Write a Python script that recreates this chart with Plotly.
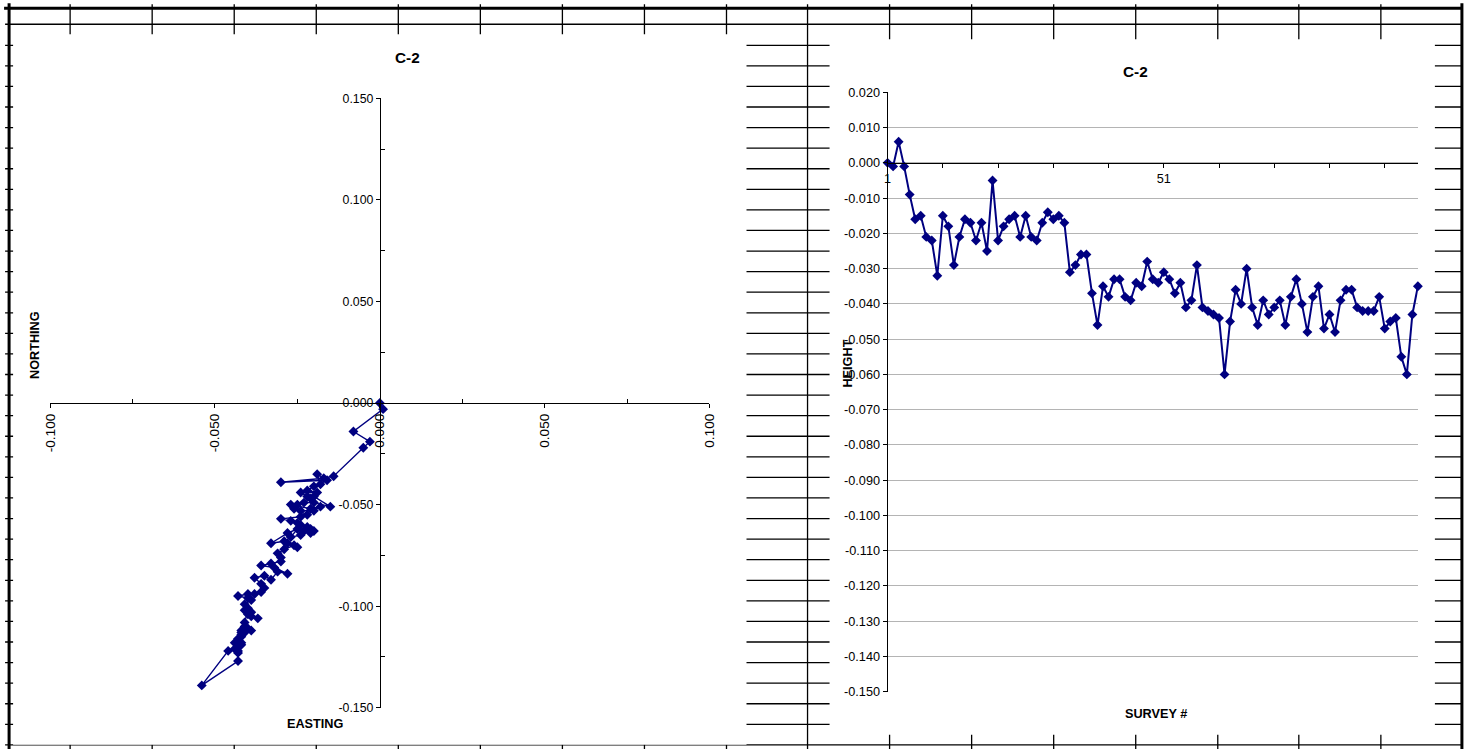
import plotly.graph_objects as go

# figure size, and the window-pixel -> paper mapping (the page shows the
# figure inside an 8 px body margin, and the photographed page is scaled
# from 1487x765 down to 1471x749)
W, H = 1471, 749
MARGIN = 8
KX = (W + 2 * MARGIN) / W
KY = (H + 2 * MARGIN) / H

# ---- C-2 plan movement (m) ----
easting = [0.000, 0.001, -0.008, -0.003, -0.005, -0.014, -0.017, -0.030, -0.016, -0.019,
           -0.018, -0.020, -0.022, -0.019, -0.024, -0.021, -0.022, -0.020, -0.015, -0.020,
           -0.023, -0.025, -0.027, -0.021, -0.018, -0.020, -0.024, -0.026, -0.022, -0.024,
           -0.030, -0.027, -0.025, -0.022, -0.024, -0.021, -0.020, -0.021, -0.023, -0.024,
           -0.027, -0.025, -0.028, -0.033, -0.029, -0.028, -0.025, -0.026, -0.029, -0.031,
           -0.030, -0.030, -0.033, -0.036, -0.032, -0.028, -0.031, -0.033, -0.035, -0.038,
           -0.036, -0.035, -0.036, -0.038, -0.040, -0.043, -0.040, -0.039, -0.041, -0.040,
           -0.041, -0.039, -0.040, -0.037, -0.039, -0.040, -0.041, -0.041, -0.039, -0.040,
           -0.042, -0.042, -0.043, -0.042, -0.043, -0.043, -0.043, -0.044, -0.046, -0.054,
           -0.043, -0.043, -0.042, -0.044, -0.042, -0.041, -0.042]
northing = [0.000, -0.003, -0.014, -0.019, -0.022, -0.036, -0.037, -0.039, -0.038, -0.035,
            -0.040, -0.041, -0.043, -0.044, -0.044, -0.047, -0.046, -0.046, -0.051, -0.049,
            -0.049, -0.050, -0.050, -0.052, -0.051, -0.053, -0.053, -0.052, -0.055, -0.056,
            -0.057, -0.058, -0.059, -0.061, -0.060, -0.062, -0.063, -0.064, -0.063, -0.065,
            -0.066, -0.062, -0.064, -0.069, -0.068, -0.069, -0.071, -0.070, -0.072, -0.074,
            -0.076, -0.078, -0.079, -0.080, -0.081, -0.084, -0.083, -0.087, -0.085, -0.086,
            -0.089, -0.091, -0.093, -0.094, -0.094, -0.095, -0.096, -0.097, -0.099, -0.101,
            -0.102, -0.103, -0.104, -0.106, -0.105, -0.102, -0.108, -0.110, -0.112, -0.111,
            -0.113, -0.114, -0.117, -0.118, -0.116, -0.120, -0.122, -0.121, -0.122, -0.139,
            -0.127, -0.123, -0.119, -0.118, -0.115, -0.113, -0.112]

# ---- C-2 height change per survey (m) ----
survey_no = list(range(1, 98))
height = [0.000, -0.001, 0.006, -0.001, -0.009, -0.016, -0.015, -0.021, -0.022, -0.032,
          -0.015, -0.018, -0.029, -0.021, -0.016, -0.017, -0.022, -0.017, -0.025, -0.005,
          -0.022, -0.018, -0.016, -0.015, -0.021, -0.015, -0.021, -0.022, -0.017, -0.014,
          -0.016, -0.015, -0.017, -0.031, -0.029, -0.026, -0.026, -0.037, -0.046, -0.035,
          -0.038, -0.033, -0.033, -0.038, -0.039, -0.034, -0.035, -0.028, -0.033, -0.034,
          -0.031, -0.033, -0.037, -0.034, -0.041, -0.039, -0.029, -0.041, -0.042, -0.043,
          -0.044, -0.060, -0.045, -0.036, -0.040, -0.030, -0.041, -0.046, -0.039, -0.043,
          -0.041, -0.039, -0.046, -0.038, -0.033, -0.040, -0.048, -0.038, -0.035, -0.047,
          -0.043, -0.048, -0.039, -0.036, -0.036, -0.041, -0.042, -0.042, -0.042, -0.038,
          -0.047, -0.045, -0.044, -0.055, -0.060, -0.043, -0.035]

# ---- tick labels ----
east_ticks = [-0.100, -0.050, 0.000, 0.050, 0.100]
east_tick_text = ["-0.100", "-0.050", "0.000", "0.050", "0.100"]
north_ticks = [-0.150, -0.100, -0.050, 0.000, 0.050, 0.100, 0.150]
north_tick_text = ["-0.150", "-0.100", "-0.050", "0.000", "0.050", "0.100", "0.150"]
height_ticks = [0.020, 0.010, 0.000, -0.010, -0.020, -0.030, -0.040, -0.050, -0.060,
                -0.070, -0.080, -0.090, -0.100, -0.110, -0.120, -0.130, -0.140, -0.150]
height_tick_text = ["0.020", "0.010", "0.000", "-0.010", "-0.020", "-0.030", "-0.040",
                    "-0.050", "-0.060", "-0.070", "-0.080", "-0.090", "-0.100", "-0.110",
                    "-0.120", "-0.130", "-0.140", "-0.150"]
survey_ticks = [1, 11, 21, 31, 41, 51, 61, 71, 81, 91]
survey_tick_text = ["1", "", "", "", "", "51", "", "", "", ""]

NAVY = "#000080"
FONT = "Liberation Sans, Arial, sans-serif"


def px(x):
    return (x * KX - MARGIN) / W


def py(y):
    return 1 - (y * KY - MARGIN) / H


# plot-area placement (window pixels)
L_X = [px(50), px(709)]
L_Y = [py(707), py(99)]
R_X = [px(887), px(1417)]
R_Y = [py(691), py(93)]
east_rng = [-0.1, 0.1]
north_rng = [-0.15, 0.15]
height_rng = [-0.15, 0.02]


def cross(dom, rng, v=0.0):
    return dom[0] + (v - rng[0]) / (rng[1] - rng[0]) * (dom[1] - dom[0])


fig = go.Figure()

fig.add_trace(go.Scatter(
    x=easting, y=northing, mode="lines+markers", xaxis="x", yaxis="y",
    line=dict(color=NAVY, width=1.4),
    marker=dict(symbol="diamond", size=7.6, color=NAVY),
    showlegend=False, hoverinfo="skip", cliponaxis=False))

fig.add_trace(go.Scatter(
    x=survey_no, y=height, mode="lines+markers", xaxis="x2", yaxis="y2",
    line=dict(color=NAVY, width=2),
    marker=dict(symbol="diamond", size=7.6, color=NAVY),
    showlegend=False, hoverinfo="skip", cliponaxis=False))

# ---- worksheet grid behind the charts ----
shapes = []
line_c = "black"
col_x = [70, 152, 234, 316, 398, 480, 562, 644, 726, 807, 889, 971, 1053, 1135, 1217, 1298, 1380]
for cx in col_x:
    shapes.append(dict(type="line", xref="paper", yref="paper", x0=px(cx), x1=px(cx),
                       y0=py(5), y1=py(760), line=dict(color=line_c, width=1.3), layer="below"))
for k in range(1, 36):
    ry = 25.5 + 20.53 * k
    shapes.append(dict(type="line", xref="paper", yref="paper", x0=px(5), x1=px(1461),
                       y0=py(ry), y1=py(ry), line=dict(color=line_c, width=1.3), layer="below"))
shapes.append(dict(type="line", xref="paper", yref="paper", x0=px(5), x1=px(1461),
                   y0=py(25), y1=py(25), line=dict(color=line_c, width=1.5), layer="below"))
# chart areas
shapes.append(dict(type="rect", xref="paper", yref="paper", x0=px(13), x1=px(746),
                   y0=py(744), y1=py(35), fillcolor="white", line=dict(width=0), layer="below"))
shapes.append(dict(type="rect", xref="paper", yref="paper", x0=px(829), x1=px(1434),
                   y0=py(734), y1=py(40), fillcolor="white", line=dict(width=0), layer="below"))
# outer frame
shapes.append(dict(type="line", xref="paper", yref="paper", x0=px(4), x1=px(1462),
                   y0=py(9), y1=py(9), line=dict(color=line_c, width=3), layer="below"))
shapes.append(dict(type="line", xref="paper", yref="paper", x0=px(9), x1=px(9),
                   y0=py(4), y1=py(760), line=dict(color=line_c, width=3), layer="below"))
shapes.append(dict(type="line", xref="paper", yref="paper", x0=px(1461), x1=px(1461),
                   y0=py(4), y1=py(760), line=dict(color=line_c, width=3), layer="below"))

tick_font = dict(family=FONT, size=12.7, color="black")
lab_font = dict(family=FONT, size=12.7, color="black")

annotations = [
    dict(text="<b>C-2</b>", x=px(407), y=py(58), font=dict(family=FONT, size=15.3, color="black")),
    dict(text="<b>C-2</b>", x=px(1135), y=py(72), font=dict(family=FONT, size=15.3, color="black")),
    dict(text="<b>NORTHING</b>", x=px(35), y=py(345), textangle=-90, font=lab_font),
    dict(text="<b>EASTING</b>", x=px(315), y=py(723), font=lab_font),
    dict(text="<b>SURVEY #</b>", x=px(1155), y=py(713), font=lab_font),
    dict(text="<b>HEIGHT</b>", x=px(847), y=py(364), textangle=-90, font=lab_font),
]
for a in annotations:
    a.update(xref="paper", yref="paper", showarrow=False, xanchor="center", yanchor="middle")

fig.update_layout(
    width=W, height=H,
    margin=dict(l=0, r=0, t=0, b=0),
    paper_bgcolor="white", plot_bgcolor="rgba(0,0,0,0)",
    font=dict(family=FONT, color="black"),
    showlegend=False,
    shapes=shapes,
    annotations=annotations,
    xaxis=dict(domain=L_X, range=east_rng, anchor="free",
               position=cross(L_Y, north_rng), showline=True, linecolor="black", linewidth=1,
               tickmode="array", tickvals=east_ticks, ticktext=east_tick_text, tickangle=-90,
               ticks="outside", ticklen=4, tickcolor="black",
               minor=dict(tickvals=[-0.075, -0.025, 0.025, 0.075], ticks="inside", ticklen=4,
                          tickcolor="black", showgrid=False),
               tickfont=dict(family=FONT, size=13.7, color="black"),
               showgrid=False, zeroline=False),
    yaxis=dict(domain=L_Y, range=north_rng, anchor="free",
               position=cross(L_X, east_rng), showline=True, linecolor="black", linewidth=1,
               tickmode="array", tickvals=north_ticks, ticktext=north_tick_text,
               ticks="outside", ticklen=4, tickcolor="black",
               minor=dict(tickvals=[-0.125, -0.075, -0.025, 0.025, 0.075, 0.125], ticks="inside",
                          ticklen=4, tickcolor="black", showgrid=False),
               tickfont=dict(family=FONT, size=12.3, color="black"),
               showgrid=False, zeroline=False),
    xaxis2=dict(domain=R_X, range=[1, 97], anchor="free",
                position=cross(R_Y, height_rng), showline=True, linecolor="black", linewidth=1,
                tickmode="array", tickvals=survey_ticks, ticktext=survey_tick_text,
                ticks="outside", ticklen=4, tickcolor="black", tickfont=tick_font,
                showgrid=False, zeroline=False),
    yaxis2=dict(domain=R_Y, range=height_rng, anchor="x2", showline=True, linecolor="black",
                linewidth=1, tickmode="array", tickvals=height_ticks, ticktext=height_tick_text,
                ticks="outside", ticklen=4, tickcolor="black", tickfont=tick_font,
                showgrid=True, gridcolor="#b4b4b4", gridwidth=1, zeroline=False),
)

fig.write_html("out.html")
